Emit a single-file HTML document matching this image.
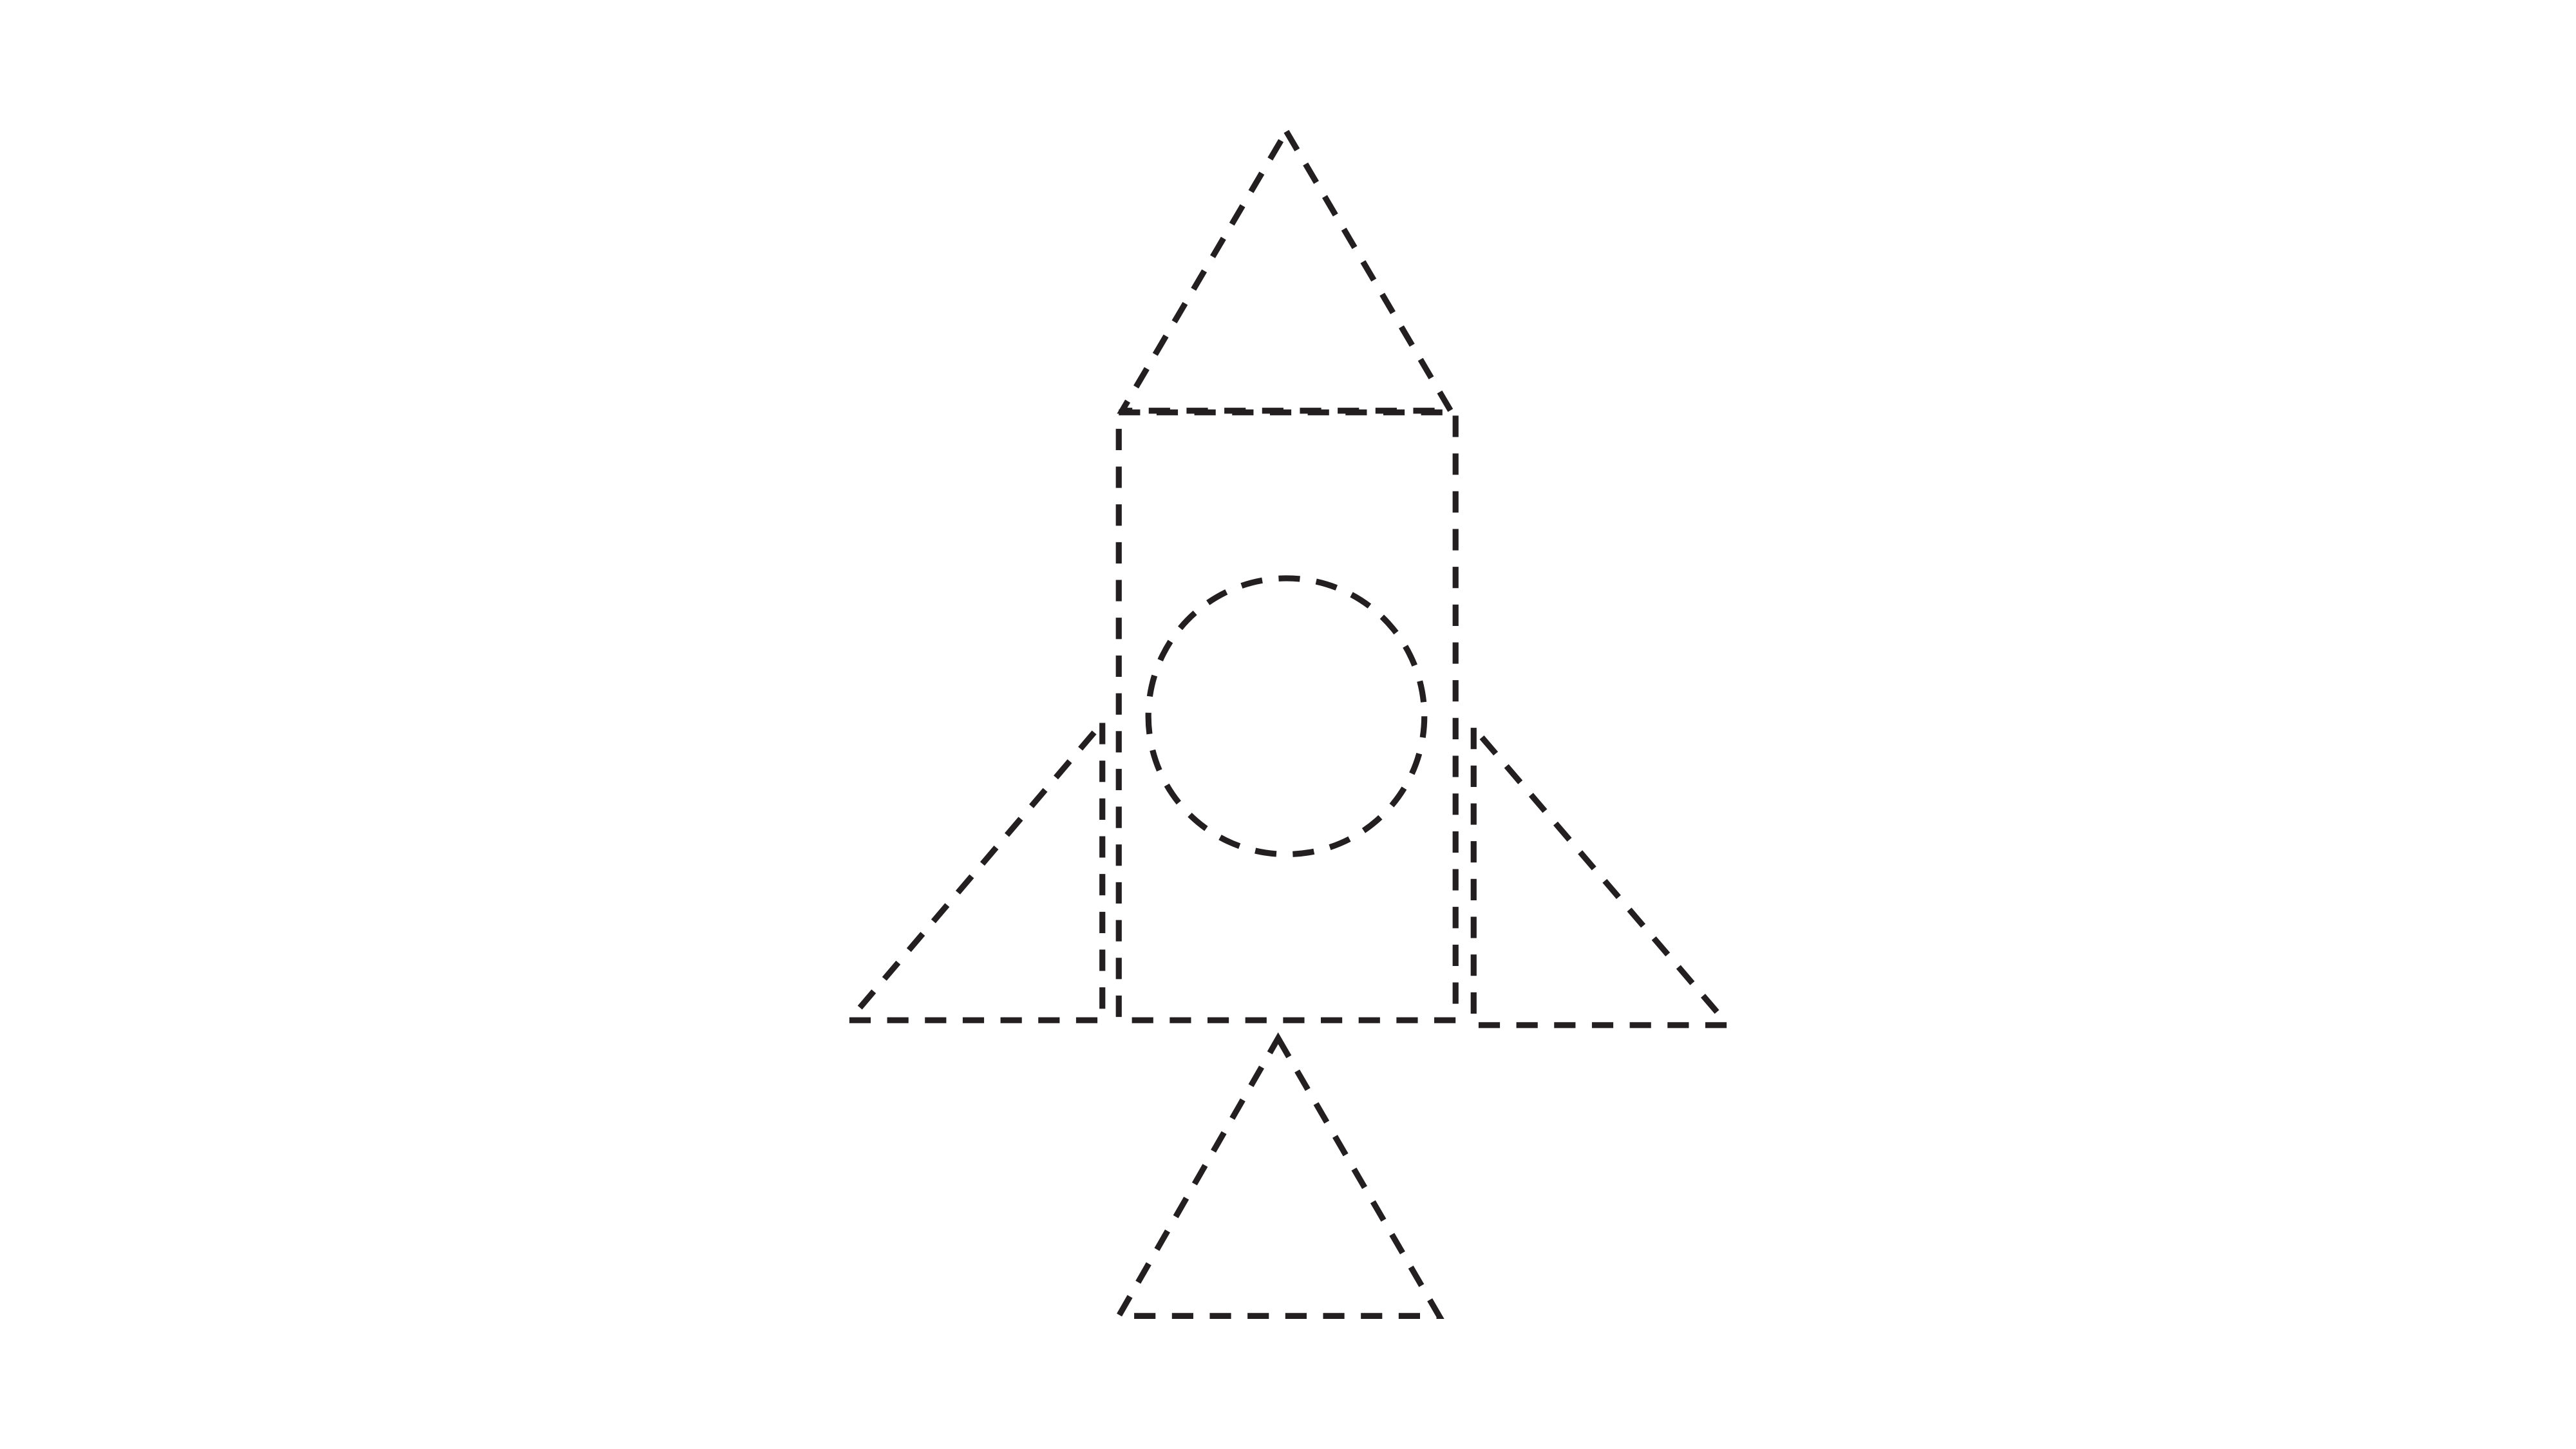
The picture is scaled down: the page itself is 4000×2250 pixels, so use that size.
<!DOCTYPE html>
<html>
<head>
<meta charset="utf-8">
<style>
  html, body { margin: 0; padding: 0; background: #ffffff; }
  svg { display: block; }
</style>
</head>
<body>
<svg width="4000" height="2250" viewBox="0 0 1568 882" xmlns="http://www.w3.org/2000/svg">
  <rect x="0" y="0" width="1568" height="882" fill="#ffffff"/>
  <g fill="none" stroke="#231f20" stroke-width="3.6" stroke-dasharray="13 10">
    <polygon points="783,80 883,250 683,250"/>
    <rect x="681" y="251" width="205" height="370"/>
    <circle cx="783" cy="436" r="84"/>
    <polyline points="671,440 671,621 517,621 522,615 671,440"/>
    <polyline points="897,443 897,624 1051,624 1046,617 897,443"/>
    <polygon points="778,632 876,801 681,801"/>
  </g>
</svg>
</body>
</html>
